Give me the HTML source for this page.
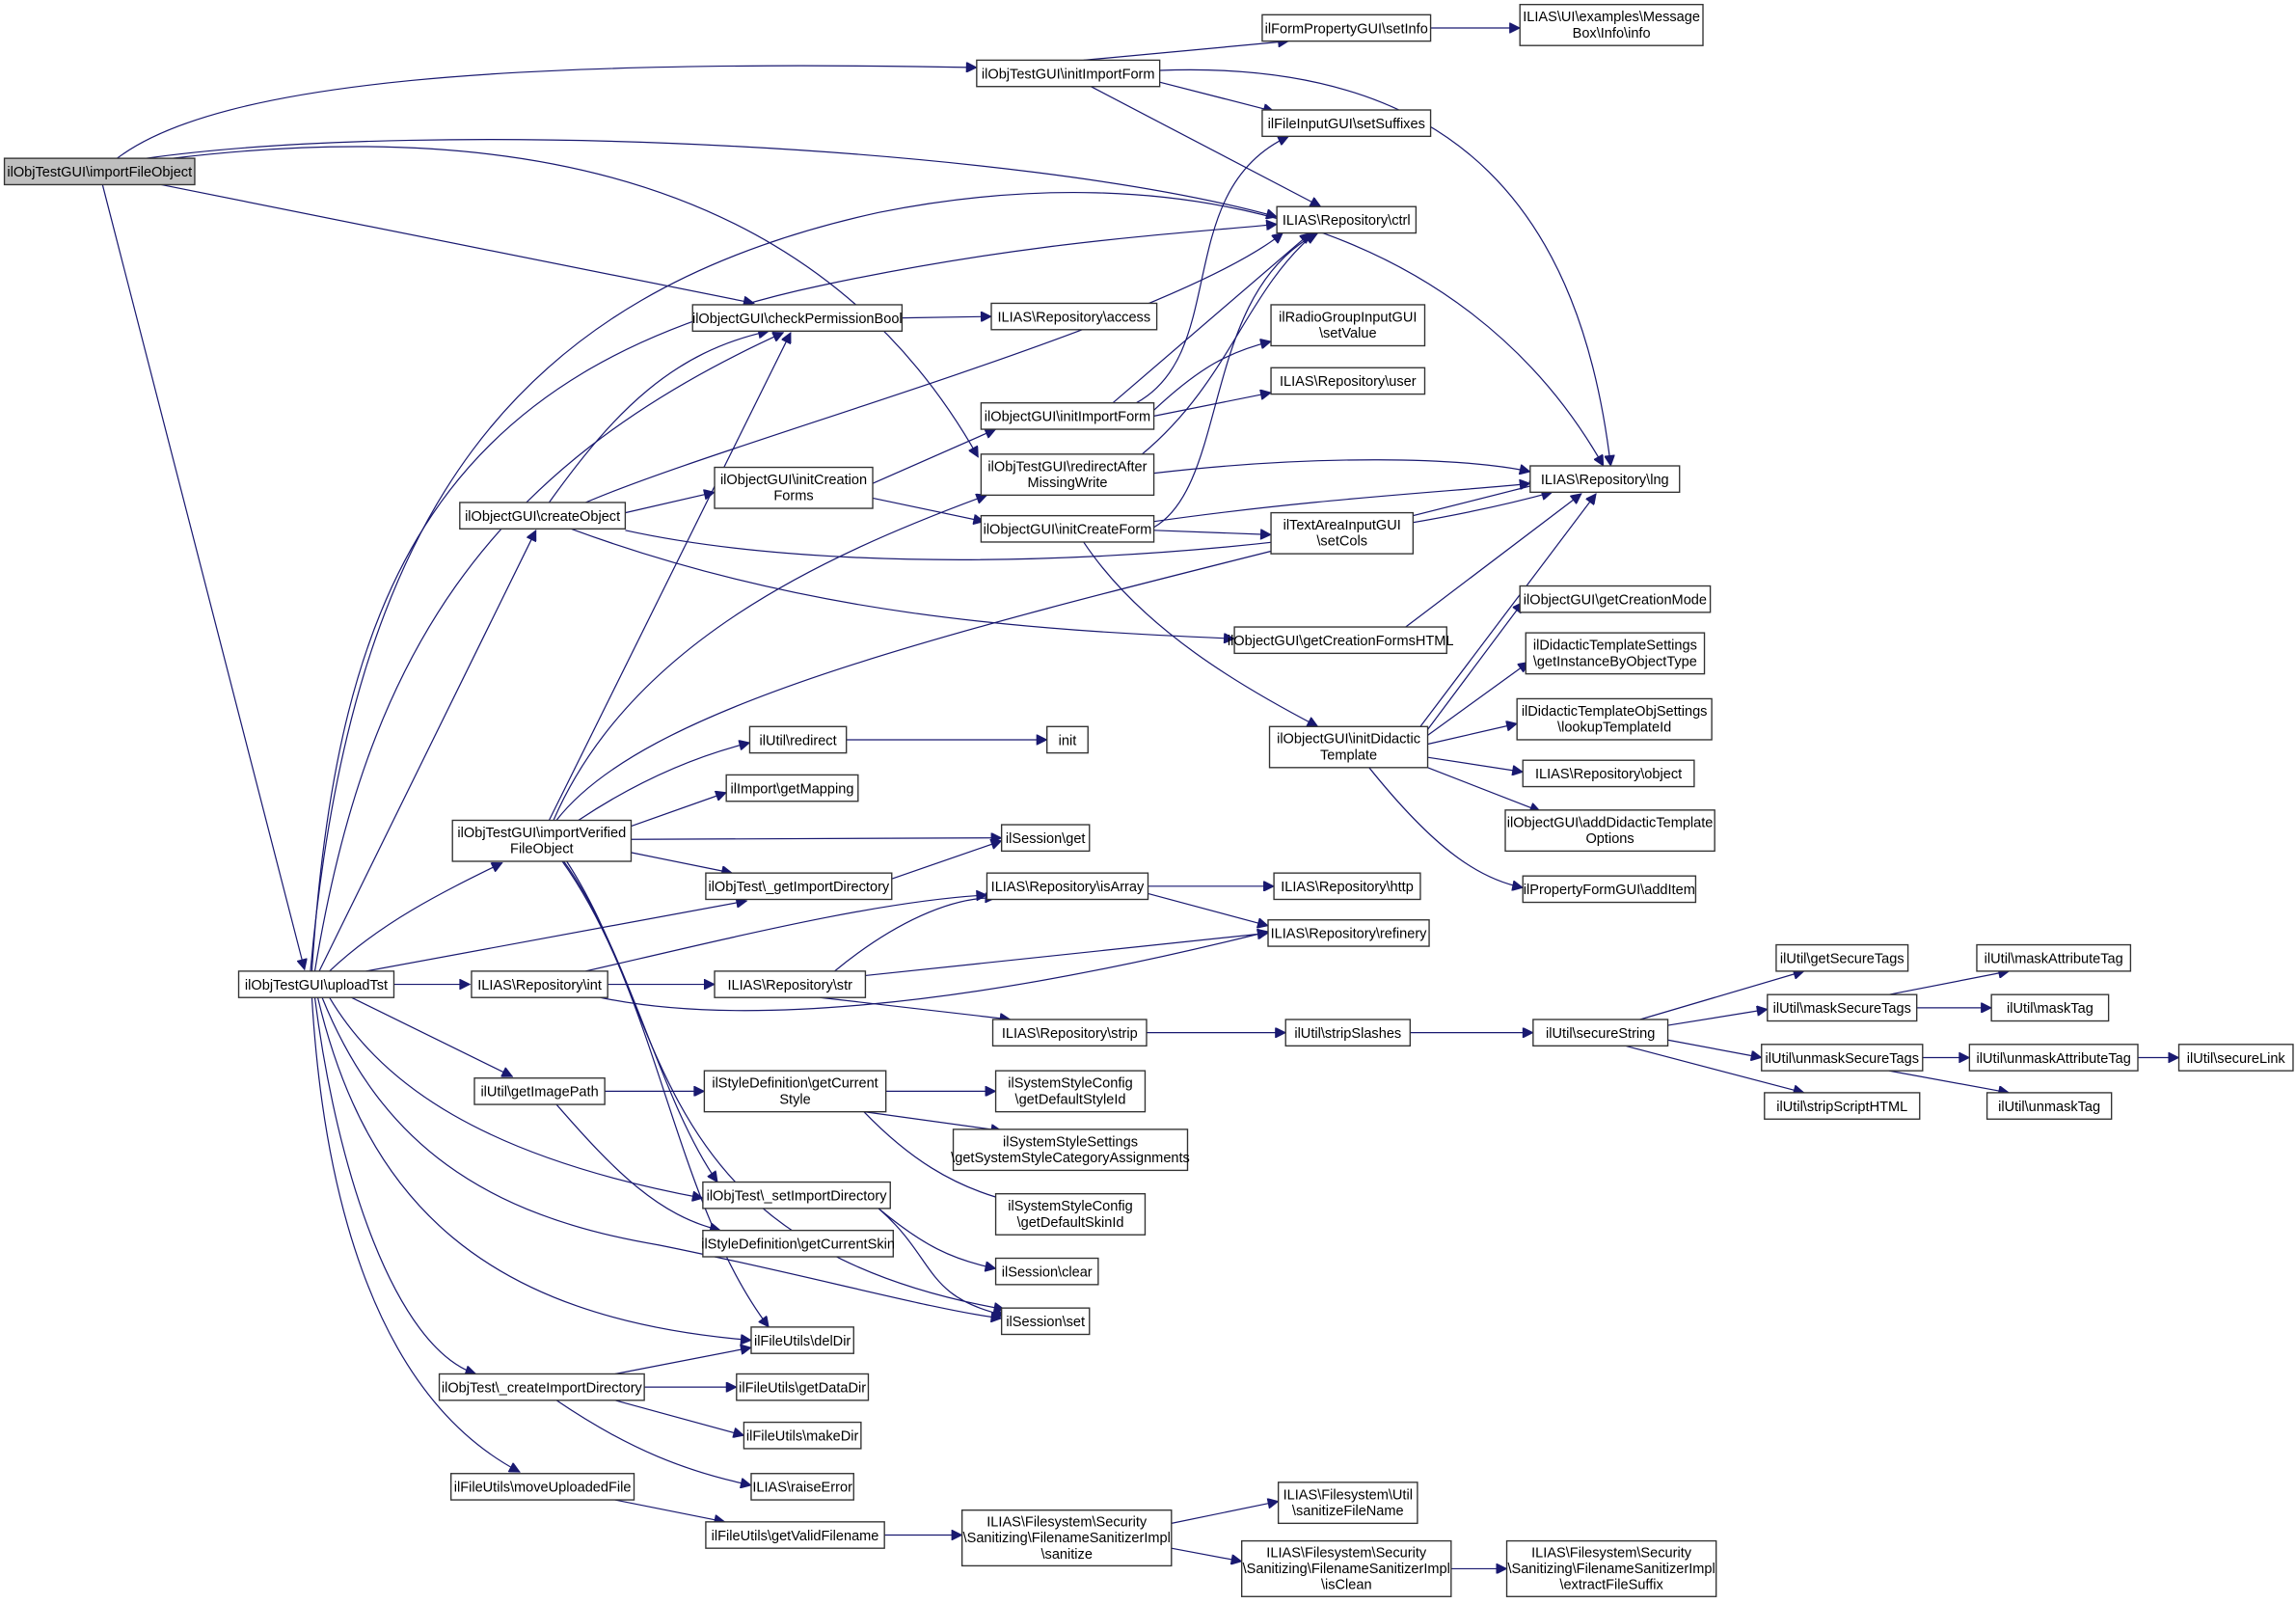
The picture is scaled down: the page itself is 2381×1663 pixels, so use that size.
<!DOCTYPE html>
<html><head><meta charset="utf-8"><style>
html,body{margin:0;padding:0;background:#fff;}
svg{display:block;}
text{font-family:"Liberation Sans",sans-serif;font-size:9.6px;fill:#000;text-anchor:middle;}
rect{fill:#fff;stroke:#333;stroke-width:0.9;}
path{fill:none;stroke:#191970;stroke-width:0.8;}
</style></head><body>
<svg width="2381" height="1663" viewBox="0 0 1568 1095" xmlns="http://www.w3.org/2000/svg">
<defs><marker id="a" viewBox="0 0 10 10" refX="10" refY="5" markerWidth="9" markerHeight="7" orient="auto" markerUnits="userSpaceOnUse"><path d="M0,0 L10,5 L0,10 z" style="fill:#191970;stroke:#191970"/></marker></defs>
<g marker-end="url(#a)">
<path d="M80,108 C150,55 350,40 667,46"/>
<path d="M100,108 C300,80 700,100 872,148"/>
<path d="M110,126 L515,207"/>
<path d="M118,108 C350,80 560,120 668,312"/>
<path d="M70,126 L208,662"/>
<path d="M215,663 C250,450 330,320 535,227"/>
<path d="M213,663 C230,400 300,250 560,195 C700,165 800,160 872,153"/>
<path d="M212,663 C240,350 350,200 600,145 C800,105 1000,150 1095,318"/>
<path d="M218,663 L366,362"/>
<path d="M225,663 C260,630 300,610 343,589"/>
<path d="M250,663 L510,615"/>
<path d="M269,672 L321,672"/>
<path d="M240,681 L350,735"/>
<path d="M225,681 C260,740 330,790 480,818"/>
<path d="M220,681 C260,780 330,830 450,850 C550,870 640,895 684,900"/>
<path d="M217,681 C250,820 330,900 513,915"/>
<path d="M215,681 C230,800 270,920 325,938"/>
<path d="M213,681 C220,800 250,950 355,1005"/>
<path d="M375,560 L540,227"/>
<path d="M378,560 C430,440 560,380 674,338"/>
<path d="M380,560 C450,470 700,420 1052,330"/>
<path d="M395,560 C440,530 480,515 512,507"/>
<path d="M431,564 L496,541"/>
<path d="M431,573 L684,572"/>
<path d="M431,582 L500,596"/>
<path d="M385,588 C430,650 450,750 490,807"/>
<path d="M384,588 C450,680 460,820 525,906"/>
<path d="M387,588 C460,700 440,850 686,894"/>
<path d="M375,343 C420,280 460,240 525,226"/>
<path d="M400,343 C500,300 800,220 876,159"/>
<path d="M427,350 L488,336"/>
<path d="M427,362 C600,400 900,380 1060,336"/>
<path d="M390,361 C550,420 700,430 843,436"/>
<path d="M740,41 L880,28"/>
<path d="M792,56 L870,76"/>
<path d="M745,59 L902,141"/>
<path d="M792,48 C1000,40 1080,150 1100,318"/>
<path d="M977,19 L1038,19"/>
<path d="M616,217 L677,216"/>
<path d="M596,330 L680,293"/>
<path d="M596,340 L672,356"/>
<path d="M760,275 L895,159"/>
<path d="M776,275 C840,240 800,130 880,93"/>
<path d="M788,280 C820,250 840,240 868,233"/>
<path d="M788,284 L868,268"/>
<path d="M780,310 C840,260 850,200 898,159"/>
<path d="M788,323 C900,310 1000,312 1045,322"/>
<path d="M788,360 C840,330 820,200 900,159"/>
<path d="M788,356 C900,340 1000,335 1045,330"/>
<path d="M788,362 L868,365"/>
<path d="M740,370 C780,430 850,470 900,496"/>
<path d="M960,428 L1080,337"/>
<path d="M970,496 L1090,337"/>
<path d="M975,498 L1040,411"/>
<path d="M975,502 L1044,452"/>
<path d="M975,508 L1036,494"/>
<path d="M975,517 L1040,527"/>
<path d="M975,524 L1052,554"/>
<path d="M935,524 C980,580 1010,600 1040,606"/>
<path d="M578,505 L715,505"/>
<path d="M609,600 L684,574"/>
<path d="M400,663 C500,640 600,615 674,611"/>
<path d="M415,672 L488,672"/>
<path d="M410,681 C500,700 650,690 866,636"/>
<path d="M570,663 C610,630 650,612 680,613"/>
<path d="M591,666 L866,637"/>
<path d="M560,681 L690,696"/>
<path d="M784,605 L870,605"/>
<path d="M784,610 L866,632"/>
<path d="M783,705 L878,705"/>
<path d="M963,705 L1047,705"/>
<path d="M1120,696 L1232,663"/>
<path d="M1139,700 L1207,689"/>
<path d="M1139,710 L1203,722"/>
<path d="M1110,714 L1232,746"/>
<path d="M1290,679 L1372,663"/>
<path d="M1309,688 L1360,688"/>
<path d="M1313,722 L1345,722"/>
<path d="M1290,731 L1372,746"/>
<path d="M1460,722 L1488,722"/>
<path d="M413,745 L481,745"/>
<path d="M380,754 C420,800 450,830 492,840"/>
<path d="M605,745 L680,745"/>
<path d="M590,759 L684,772"/>
<path d="M590,759 C620,790 650,810 690,820"/>
<path d="M600,825 C630,850 650,860 680,866"/>
<path d="M600,825 C640,860 630,885 686,898"/>
<path d="M420,938 L513,920"/>
<path d="M440,947 L503,947"/>
<path d="M420,956 L508,980"/>
<path d="M380,956 C430,990 470,1005 513,1014"/>
<path d="M420,1024 L495,1039"/>
<path d="M604,1048 L657,1048"/>
<path d="M800,1040 L873,1025"/>
<path d="M800,1057 L848,1066"/>
<path d="M991,1071 L1029,1071"/>
</g>

<rect x="3" y="108" width="130" height="18" style="fill:#bfbfbf"/><text x="68" y="120.5">ilObjTestGUI\importFileObject</text>
<rect x="667" y="41" width="125" height="18"/><text x="729.5" y="53.5">ilObjTestGUI\initImportForm</text>
<rect x="862" y="10" width="115" height="18"/><text x="919.5" y="22.5">ilFormPropertyGUI\setInfo</text>
<rect x="1038" y="3" width="125" height="28"/><text x="1100.5" y="14.5">ILIAS\UI\examples\Message</text><text x="1100.5" y="25.5">Box\Info\info</text>
<rect x="862" y="75" width="115" height="18"/><text x="919.5" y="87.5">ilFileInputGUI\setSuffixes</text>
<rect x="872" y="141" width="95" height="18"/><text x="919.5" y="153.5">ILIAS\Repository\ctrl</text>
<rect x="473" y="208" width="143" height="18"/><text x="544.5" y="220.5">ilObjectGUI\checkPermissionBool</text>
<rect x="677" y="207" width="113" height="18"/><text x="733.5" y="219.5">ILIAS\Repository\access</text>
<rect x="868" y="208" width="105" height="28"/><text x="920.5" y="219.5">ilRadioGroupInputGUI</text><text x="920.5" y="230.5">\setValue</text>
<rect x="868" y="251" width="105" height="18"/><text x="920.5" y="263.5">ILIAS\Repository\user</text>
<rect x="670" y="275" width="118" height="18"/><text x="729" y="287.5">ilObjectGUI\initImportForm</text>
<rect x="670" y="310" width="118" height="28"/><text x="729" y="321.5">ilObjTestGUI\redirectAfter</text><text x="729" y="332.5">MissingWrite</text>
<rect x="1045" y="318" width="102" height="18"/><text x="1096" y="330.5">ILIAS\Repository\lng</text>
<rect x="488" y="319" width="108" height="28"/><text x="542" y="330.5">ilObjectGUI\initCreation</text><text x="542" y="341.5">Forms</text>
<rect x="314" y="343" width="113" height="18"/><text x="370.5" y="355.5">ilObjectGUI\createObject</text>
<rect x="670" y="352" width="118" height="18"/><text x="729" y="364.5">ilObjectGUI\initCreateForm</text>
<rect x="868" y="350" width="97" height="28"/><text x="916.5" y="361.5">ilTextAreaInputGUI</text><text x="916.5" y="372.5">\setCols</text>
<rect x="1038" y="400" width="130" height="18"/><text x="1103" y="412.5">ilObjectGUI\getCreationMode</text>
<rect x="843" y="428" width="145" height="18"/><text x="915.5" y="440.5">ilObjectGUI\getCreationFormsHTML</text>
<rect x="1042" y="432" width="122" height="28"/><text x="1103" y="443.5">ilDidacticTemplateSettings</text><text x="1103" y="454.5">\getInstanceByObjectType</text>
<rect x="1036" y="477" width="133" height="28"/><text x="1102.5" y="488.5">ilDidacticTemplateObjSettings</text><text x="1102.5" y="499.5">\lookupTemplateId</text>
<rect x="867" y="496" width="108" height="28"/><text x="921" y="507.5">ilObjectGUI\initDidactic</text><text x="921" y="518.5">Template</text>
<rect x="512" y="496" width="66" height="18"/><text x="545" y="508.5">ilUtil\redirect</text>
<rect x="715" y="496" width="28" height="18"/><text x="729" y="508.5">init</text>
<rect x="1040" y="519" width="117" height="18"/><text x="1098.5" y="531.5">ILIAS\Repository\object</text>
<rect x="496" y="529" width="90" height="18"/><text x="541" y="541.5">ilImport\getMapping</text>
<rect x="1028" y="553" width="143" height="28"/><text x="1099.5" y="564.5">ilObjectGUI\addDidacticTemplate</text><text x="1099.5" y="575.5">Options</text>
<rect x="309" y="560" width="122" height="28"/><text x="370" y="571.5">ilObjTestGUI\importVerified</text><text x="370" y="582.5">FileObject</text>
<rect x="684" y="563" width="60" height="18"/><text x="714" y="575.5">ilSession\get</text>
<rect x="482" y="596" width="127" height="18"/><text x="545.5" y="608.5">ilObjTest\_getImportDirectory</text>
<rect x="674" y="596" width="110" height="18"/><text x="729" y="608.5">ILIAS\Repository\isArray</text>
<rect x="870" y="596" width="100" height="18"/><text x="920" y="608.5">ILIAS\Repository\http</text>
<rect x="1040" y="598" width="118" height="18"/><text x="1099" y="610.5">ilPropertyFormGUI\addItem</text>
<rect x="866" y="628" width="110" height="18"/><text x="921" y="640.5">ILIAS\Repository\refinery</text>
<rect x="163" y="663" width="106" height="18"/><text x="216" y="675.5">ilObjTestGUI\uploadTst</text>
<rect x="322" y="663" width="93" height="18"/><text x="368.5" y="675.5">ILIAS\Repository\int</text>
<rect x="488" y="663" width="103" height="18"/><text x="539.5" y="675.5">ILIAS\Repository\str</text>
<rect x="1213" y="645" width="90" height="18"/><text x="1258" y="657.5">ilUtil\getSecureTags</text>
<rect x="1350" y="645" width="105" height="18"/><text x="1402.5" y="657.5">ilUtil\maskAttributeTag</text>
<rect x="1207" y="679" width="102" height="18"/><text x="1258" y="691.5">ilUtil\maskSecureTags</text>
<rect x="1360" y="679" width="80" height="18"/><text x="1400" y="691.5">ilUtil\maskTag</text>
<rect x="678" y="696" width="105" height="18"/><text x="730.5" y="708.5">ILIAS\Repository\strip</text>
<rect x="878" y="696" width="85" height="18"/><text x="920.5" y="708.5">ilUtil\stripSlashes</text>
<rect x="1047" y="696" width="92" height="18"/><text x="1093" y="708.5">ilUtil\secureString</text>
<rect x="1203" y="713" width="110" height="18"/><text x="1258" y="725.5">ilUtil\unmaskSecureTags</text>
<rect x="1345" y="713" width="115" height="18"/><text x="1402.5" y="725.5">ilUtil\unmaskAttributeTag</text>
<rect x="1488" y="713" width="78" height="18"/><text x="1527" y="725.5">ilUtil\secureLink</text>
<rect x="1205" y="746" width="106" height="18"/><text x="1258" y="758.5">ilUtil\stripScriptHTML</text>
<rect x="1357" y="746" width="85" height="18"/><text x="1399.5" y="758.5">ilUtil\unmaskTag</text>
<rect x="324" y="736" width="89" height="18"/><text x="368.5" y="748.5">ilUtil\getImagePath</text>
<rect x="481" y="731" width="124" height="28"/><text x="543" y="742.5">ilStyleDefinition\getCurrent</text><text x="543" y="753.5">Style</text>
<rect x="680" y="731" width="102" height="28"/><text x="731" y="742.5">ilSystemStyleConfig</text><text x="731" y="753.5">\getDefaultStyleId</text>
<rect x="651" y="771" width="160" height="28"/><text x="731" y="782.5">ilSystemStyleSettings</text><text x="731" y="793.5">\getSystemStyleCategoryAssignments</text>
<rect x="480" y="807" width="128" height="18"/><text x="544" y="819.5">ilObjTest\_setImportDirectory</text>
<rect x="680" y="815" width="102" height="28"/><text x="731" y="826.5">ilSystemStyleConfig</text><text x="731" y="837.5">\getDefaultSkinId</text>
<rect x="480" y="840" width="130" height="18"/><text x="545" y="852.5">ilStyleDefinition\getCurrentSkin</text>
<rect x="680" y="859" width="70" height="18"/><text x="715" y="871.5">ilSession\clear</text>
<rect x="684" y="893" width="60" height="18"/><text x="714" y="905.5">ilSession\set</text>
<rect x="513" y="906" width="70" height="18"/><text x="548" y="918.5">ilFileUtils\delDir</text>
<rect x="300" y="938" width="140" height="18"/><text x="370" y="950.5">ilObjTest\_createImportDirectory</text>
<rect x="503" y="938" width="90" height="18"/><text x="548" y="950.5">ilFileUtils\getDataDir</text>
<rect x="508" y="971" width="80" height="18"/><text x="548" y="983.5">ilFileUtils\makeDir</text>
<rect x="513" y="1006" width="70" height="18"/><text x="548" y="1018.5">ILIAS\raiseError</text>
<rect x="308" y="1006" width="125" height="18"/><text x="370.5" y="1018.5">ilFileUtils\moveUploadedFile</text>
<rect x="482" y="1039" width="122" height="18"/><text x="543" y="1051.5">ilFileUtils\getValidFilename</text>
<rect x="657" y="1031" width="143" height="38"/><text x="728.5" y="1042">ILIAS\Filesystem\Security</text><text x="728.5" y="1053">\Sanitizing\FilenameSanitizerImpl</text><text x="728.5" y="1064">\sanitize</text>
<rect x="873" y="1012" width="95" height="28"/><text x="920.5" y="1023.5">ILIAS\Filesystem\Util</text><text x="920.5" y="1034.5">\sanitizeFileName</text>
<rect x="848" y="1052" width="143" height="38"/><text x="919.5" y="1063">ILIAS\Filesystem\Security</text><text x="919.5" y="1074">\Sanitizing\FilenameSanitizerImpl</text><text x="919.5" y="1085">\isClean</text>
<rect x="1029" y="1052" width="143" height="38"/><text x="1100.5" y="1063">ILIAS\Filesystem\Security</text><text x="1100.5" y="1074">\Sanitizing\FilenameSanitizerImpl</text><text x="1100.5" y="1085">\extractFileSuffix</text>
</svg>
</body></html>
